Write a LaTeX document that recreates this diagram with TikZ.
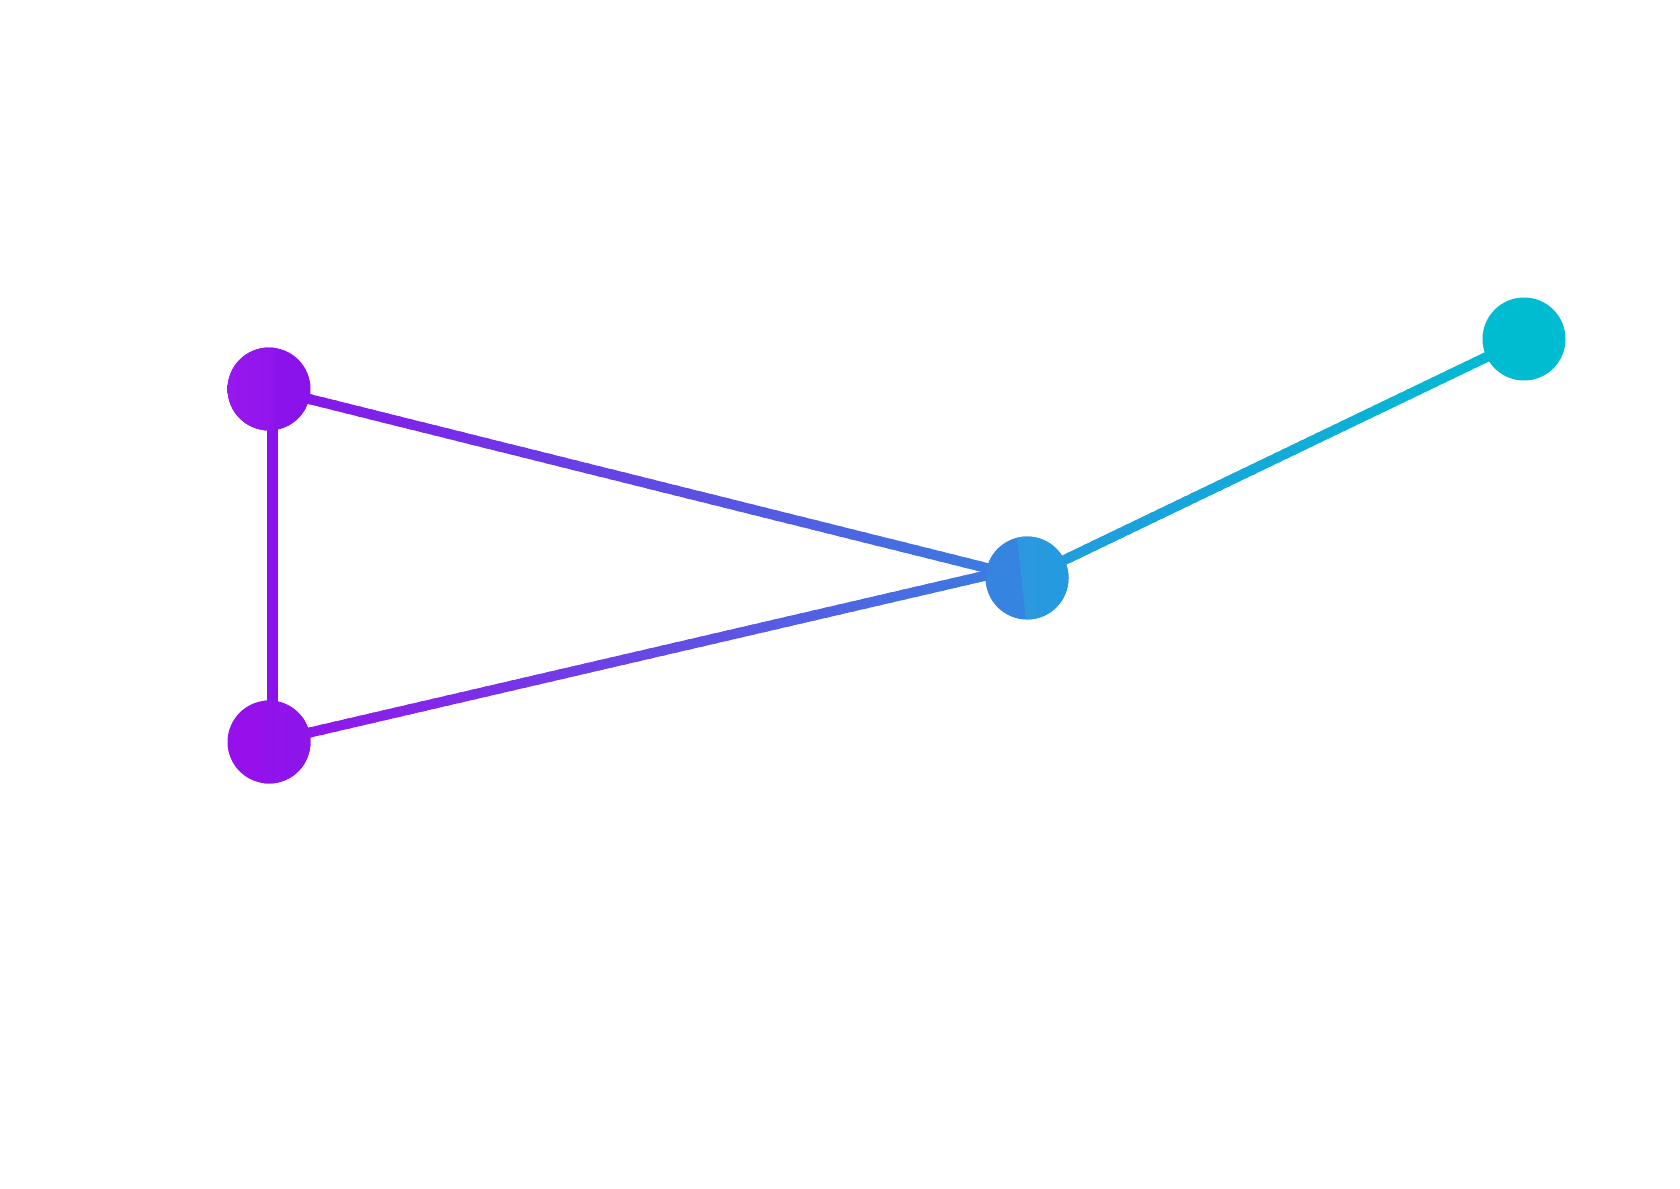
\documentclass[tikz,border=0pt]{standalone}
\usetikzlibrary{calc,backgrounds}
\definecolor{cA}{RGB}{138,18,234}
\definecolor{cAl}{RGB}{152,24,237}
\definecolor{cB}{RGB}{150,16,236}
\definecolor{cBr}{RGB}{140,22,234}
\definecolor{cC}{RGB}{56,128,224}
\definecolor{cCl}{RGB}{52,132,224}
\definecolor{cCm}{RGB}{52,150,222}
\definecolor{cCr}{RGB}{34,155,224}
\definecolor{cD}{RGB}{0,188,208}
\tikzset{
  vertex/.style={circle, draw=none, inner sep=0pt, minimum size=83pt},
}
\newcommand\gradedge[5]{%
  \foreach \i in {0,...,59}{%
    \pgfmathsetmacro\ta{\i/60}%
    \pgfmathsetmacro\tb{min(1,(\i+1.4)/60)}%
    \pgfmathsetmacro\pc{100*(\i+0.5)/60}%
    \colorlet{segc}{#4!\pc!#3}%
    \draw[line width=#5, segc] ($(#1)!\ta!(#2)$) -- ($(#1)!\tb!(#2)$);%
  }}
\begin{document}
\begin{tikzpicture}[x=1pt,y=-1pt]
\useasboundingbox (0,0) rectangle (1680,1188);
\node[vertex, fill=cA, path picture={\shade[left color=cAl, right color=cA]
  ($(path picture bounding box.north west)+(-1,0)$) rectangle ($(path picture bounding box.south)+(5,0)$);}] (A) at (269,389) {};
\node[vertex, fill=cB, path picture={\shade[left color=cB, right color=cBr]
  ($(path picture bounding box.north)+(-5,0)$) rectangle ($(path picture bounding box.south east)+(1,0)$);}] (B) at (269,742) {};
\node[vertex, fill=cCl, path picture={\shade[left color=cCm, right color=cCr]
  ($(path picture bounding box.north)+(-10,-1)$) -- ($(path picture bounding box.north east)+(1,-1)$)
  -- ($(path picture bounding box.south east)+(1,1)$) -- ($(path picture bounding box.south)+(-1,1)$) -- cycle;}] (C) at (1027,578) {};
\node[vertex, fill=cD] (D) at (1524,339) {};
\begin{scope}[on background layer]
  \draw[line width=11.5pt, cA] ($(A)+(3.5,0)$) -- ($(B)+(3.5,0)$);
  \gradedge{A}{C}{cA}{cC}{10pt}
  \gradedge{B}{$(C)+(0,-12)$}{cB}{cC}{10pt}
  \gradedge{C}{D}{cCr}{cD}{10pt}
\end{scope}
\end{tikzpicture}
\end{document}
